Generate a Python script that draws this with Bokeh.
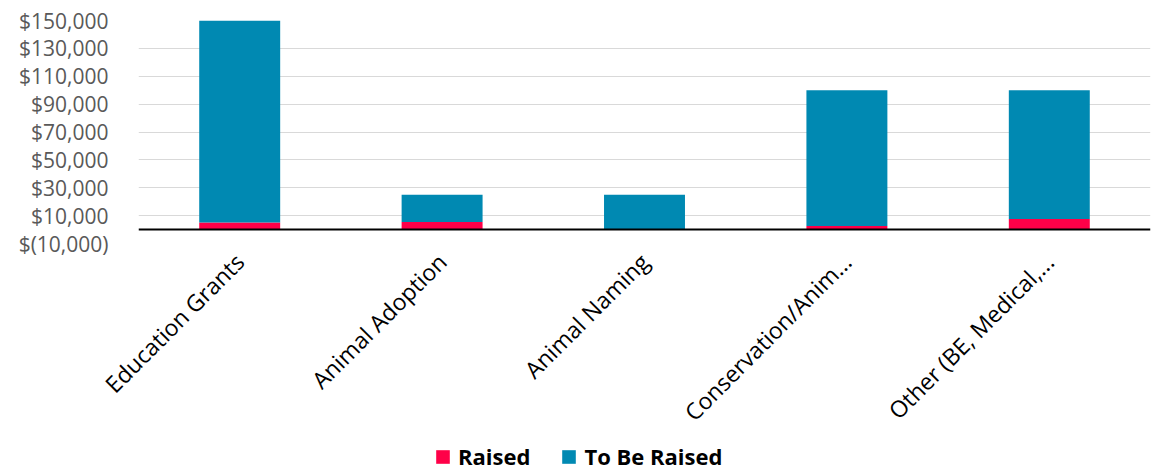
import math
from bokeh.plotting import figure
from bokeh.layouts import column
from bokeh.models import (FactorRange, Range1d, FixedTicker, CustomJSTickFormatter,
                          Span, Legend, LegendItem, ColumnDataSource)
from bokeh.embed import file_html
from bokeh.resources import INLINE

categories = ["Education Grants", "Animal Adoption", "Animal Naming",
              "Conservation/Anim...", "Other (BE, Medical,..."]
raised = [5000, 5500, 0, 2500, 7500]
totals = [150000, 25000, 25000, 100000, 100000]
to_be_raised = [t - r for t, r in zip(totals, raised)]
series = ["Raised", "To Be Raised"]
colors = ["#FF0048", "#0089B2"]
y_ticks = [-10000, 10000, 30000, 50000, 70000, 90000, 110000, 130000, 150000]

source = ColumnDataSource(dict(cat=categories, Raised=raised, **{"To Be Raised": to_be_raised}))

p = figure(x_range=FactorRange(*categories), y_range=Range1d(-10000, 150000),
           width=1158, height=441, output_backend="svg", toolbar_location=None,
           min_border_left=138, min_border_right=8, min_border_top=20,
           min_border_bottom=198)
p.outline_line_color = None

rs = p.vbar_stack(series, x="cat", width=0.4, color=colors, line_color=None, source=source)

p.yaxis.ticker = FixedTicker(ticks=y_ticks)
p.yaxis.formatter = CustomJSTickFormatter(code="""
const s = Math.abs(tick).toLocaleString('en-US');
return tick < 0 ? '$(' + s + ')' : '$' + s;
""")
p.yaxis.axis_line_color = None
p.yaxis.major_tick_line_color = None
p.yaxis.minor_tick_line_color = None
p.yaxis.major_label_standoff = 24
p.yaxis.major_label_text_font = "Open Sans"
p.yaxis.major_label_text_font_size = "21px"
p.yaxis.major_label_text_color = "#595959"

p.xaxis.axis_line_color = None
p.xaxis.major_tick_line_color = None
p.xaxis.minor_tick_line_color = None
p.xaxis.major_label_orientation = math.pi / 4
p.xaxis.major_label_standoff = 8
p.xaxis.major_label_text_font = "Open Sans"
p.xaxis.major_label_text_font_size = "23px"
p.xaxis.major_label_text_color = "black"

p.xgrid.grid_line_color = None
p.ygrid.grid_line_color = "#D9D9D9"
p.ygrid.grid_line_width = 1

p.add_layout(Span(location=0, dimension="width", line_color="black", line_width=2))

# Legend strip below the chart (zero-height swatch renderers only feed the legend)
lg = figure(width=1158, height=30, x_range=Range1d(0, 1), y_range=Range1d(0, 1),
            x_axis_type=None, y_axis_type=None, output_backend="svg",
            toolbar_location=None, min_border=0)
lg.outline_line_color = None
lg.xgrid.visible = False
lg.ygrid.visible = False
swatches = [lg.vbar(x=[0.5], top=[0], bottom=[0], width=0, fill_color=c, line_color=None)
            for c in colors]

legend = Legend(items=[LegendItem(label=s, renderers=[r]) for s, r in zip(series, swatches)],
                orientation="horizontal", location=(296, 0),
                label_text_font="Open Sans", label_text_font_style="bold",
                label_text_font_size="22px", label_text_color="black",
                glyph_width=17, glyph_height=17, label_height=22, label_standoff=7,
                spacing=30, padding=0, margin=0, border_line_color=None,
                background_fill_alpha=0)
lg.add_layout(legend, "center")

layout = column(p, lg, spacing=0)
open("out.html", "w").write(file_html(layout, INLINE))
